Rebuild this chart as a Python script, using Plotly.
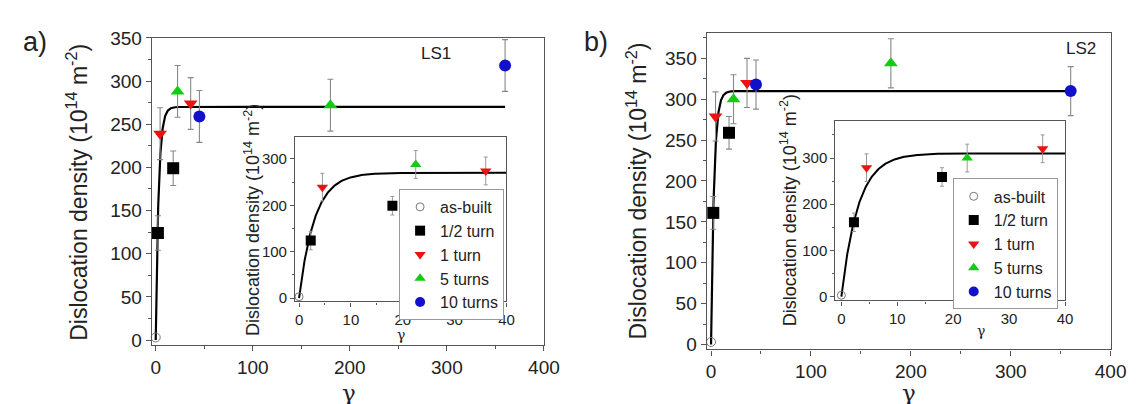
import numpy as np
import plotly.graph_objects as go

# ---------------- data ----------------
series_names = ["as-built", "1/2 turn", "1 turn", "5 turns", "10 turns"]
series_symbols = ["circle-open", "square", "triangle-down", "triangle-up", "circle"]
series_colors = ["#777777", "#000000", "#ee1111", "#11cc11", "#1111cc"]

# LS1 (panel a)
ls1_x = [[0], [2.25, 18], [4.5, 36], [22.5, 180], [45, 360]]
ls1_y = [[3], [124, 199], [239, 274], [288, 272], [259, 318]]
ls1_err = [[0], [20, 20], [30, 30], [30, 30], [30, 30]]
ls1_plateau = 270
ls1_x0 = 3.0

# LS2 (panel b)
ls2_x = [[0], [2.25, 18], [4.5, 36], [22.5, 180], [45, 360]]
ls2_y = [[3], [161, 259], [279, 320], [300, 344], [318, 310]]
ls2_err = [[0], [20, 20], [30, 30], [30, 30], [30, 30]]
ls2_plateau = 310
ls2_x0 = 3.0

main_xticks = [0, 100, 200, 300, 400]
main_yticks = [0, 50, 100, 150, 200, 250, 300, 350]
inset_xticks = [0, 10, 20, 30, 40]
inset_yticks = [0, 100, 200, 300]

W, H = 1141, 404
FONT = "Liberation Sans, Arial, sans-serif"
SERIF = "DejaVu Serif, Liberation Serif, serif"
AX = "#555555"
TXT = "#222222"


def px(x):
    return x / W


def py(y):
    return 1 - y / H


fig = go.Figure()


def fit_curve(plateau, x0, xmax):
    xs = np.concatenate([np.linspace(0, 20, 201), np.linspace(20, xmax, 80)[1:]])
    return xs, plateau * (1 - np.exp(-xs / x0))


def add_panel(xs_all, ys_all, errs_all, plateau, x0, main_ax, inset_ax, legend_name):
    mx, my = main_ax
    ix, iy = inset_ax
    fx, fy = fit_curve(plateau, x0, 360)
    fig.add_trace(go.Scatter(x=fx, y=fy, mode="lines", line=dict(color="black", width=2.2),
                             xaxis=mx, yaxis=my, showlegend=False, hoverinfo="skip"))
    fx2, fy2 = fit_curve(plateau, x0, 40)
    fig.add_trace(go.Scatter(x=fx2, y=fy2, mode="lines", line=dict(color="black", width=2),
                             xaxis=ix, yaxis=iy, showlegend=False, hoverinfo="skip"))
    for i, name in enumerate(series_names):
        is_open = series_symbols[i] == "circle-open"
        msize_main = 9 if is_open else 12
        msize_in = 8 if is_open else 10
        fig.add_trace(go.Scatter(
            x=xs_all[i], y=ys_all[i], mode="markers", name=name,
            marker=dict(symbol=series_symbols[i], color=series_colors[i], size=msize_main,
                        line=dict(width=1 if is_open else 0, color=series_colors[i])),
            error_y=dict(type="data", array=errs_all[i], color="#888888", thickness=1.1,
                         width=3, visible=not is_open),
            xaxis=mx, yaxis=my, showlegend=False, cliponaxis=False))
        fig.add_trace(go.Scatter(
            x=xs_all[i], y=ys_all[i], mode="markers", name=name,
            marker=dict(symbol=series_symbols[i], color=series_colors[i], size=msize_in,
                        line=dict(width=1 if is_open else 0, color=series_colors[i])),
            error_y=dict(type="data", array=errs_all[i], color="#999999", thickness=1,
                         width=2, visible=not is_open),
            xaxis=ix, yaxis=iy, showlegend=True, legend=legend_name,
            cliponaxis=not is_open))


add_panel(ls1_x, ls1_y, ls1_err, ls1_plateau, ls1_x0, ("x", "y"), ("x2", "y2"), "legend")
add_panel(ls2_x, ls2_y, ls2_err, ls2_plateau, ls2_x0, ("x3", "y3"), ("x4", "y4"), "legend2")


def axis(domain, rng, ticks, anchor, size, minor_dtick, ticklen=5):
    return dict(domain=domain, range=rng, tickvals=ticks, anchor=anchor,
                showgrid=False, zeroline=False, showline=True, linecolor=AX, linewidth=1.4,
                mirror=True, ticks="outside", ticklen=ticklen, tickcolor=AX, tickwidth=1.2,
                tickfont=dict(size=size, color=TXT, family=FONT),
                minor=dict(dtick=minor_dtick, ticks="outside", ticklen=ticklen * 0.6,
                           tickcolor=AX, tickwidth=1, showgrid=False))


legend_common = dict(xanchor="left", yanchor="top", bordercolor="#999999", borderwidth=1,
                     bgcolor="white", font=dict(size=16, family=FONT, color=TXT),
                     tracegroupgap=0, itemwidth=30)

fig.update_layout(
    width=W, height=H, margin=dict(l=0, r=0, t=0, b=0),
    paper_bgcolor="white", plot_bgcolor="white",
    font=dict(family=FONT, color=TXT),
    xaxis=axis([px(145), px(543)], [-4, 400], main_xticks, "y", 19, 50),
    yaxis=axis([py(340.7), py(20.7)], [-6, 350], main_yticks, "x", 19, 25),
    xaxis2=axis([px(290.5), px(505)], [-0.75, 40], inset_xticks, "y2", 15, 5, 4),
    yaxis2=axis([py(295), py(124)], [-7, 347], inset_yticks, "x2", 15, 50, 4),
    xaxis3=axis([px(708.3), px(1118.3)], [-4.3, 400], main_xticks, "y3", 19, 50),
    yaxis3=axis([py(345), py(15.7)], [-6, 381], main_yticks, "x3", 19, 25),
    xaxis4=axis([px(839), px(1072)], [-1.05, 40], inset_xticks, "y4", 15, 5, 4),
    yaxis4=axis([py(294), py(107.3)], [-8, 380], inset_yticks, "x4", 15, 50, 4),
    legend=dict(x=px(396), y=py(178), **legend_common),
    legend2=dict(x=px(958), y=py(167), **legend_common),
)

ytitle = "Dislocation density (10<sup>14</sup> m<sup>-2</sup>)"
ann = [
    dict(text="a)", x=26, y=25, size=27, angle=0, fam=FONT),
    dict(text="b)", x=596, y=25, size=27, angle=0, fam=FONT),
    dict(text="LS1", x=433, y=37, size=17, angle=0, fam=FONT),
    dict(text="LS2", x=1088, y=32, size=17, angle=0, fam=FONT),
    dict(text=ytitle, x=69, y=181, size=23, angle=-90, fam=FONT),
    dict(text=ytitle, x=637, y=180, size=23, angle=-90, fam=FONT),
    dict(text="γ", x=345, y=390, size=23, angle=0, fam=SERIF),
    dict(text="γ", x=914, y=390, size=23, angle=0, fam=SERIF),
    dict(text=ytitle, x=247, y=210, size=18, angle=-90, fam=FONT),
    dict(text=ytitle, x=791, y=200, size=18, angle=-90, fam=FONT),
    dict(text="γ", x=398, y=330, size=14, angle=0, fam=SERIF),
    dict(text="γ", x=987, y=326, size=14, angle=0, fam=SERIF),
]
for a in ann:
    fig.add_annotation(text=a["text"], x=px(a["x"]), y=py(a["y"]), xref="paper", yref="paper",
                       showarrow=False, textangle=a["angle"],
                       font=dict(size=a["size"], family=a["fam"], color=TXT),
                       xanchor="center", yanchor="middle")

fig.write_html("out.html")
